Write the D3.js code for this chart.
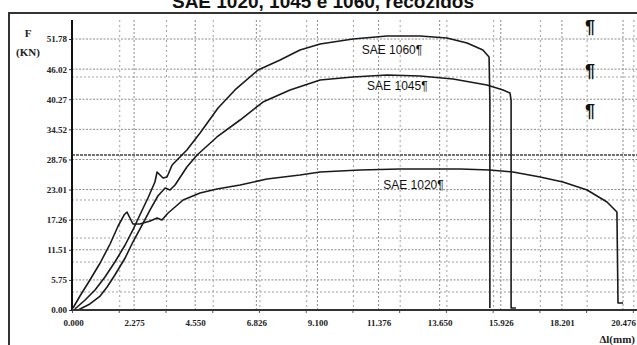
<!DOCTYPE html>
<html>
<head>
<meta charset="utf-8">
<script src="https://cdn.jsdelivr.net/npm/d3@7/dist/d3.min.js"></script>
<style>
  html, body { margin: 0; padding: 0; background: #fff; }
  svg { display: block; }
</style>
</head>
<body>
<script>
// Tensile test curves: force F (kN) against elongation Δl (mm)
const xTicks = [0, 2.275, 4.550, 6.826, 9.100, 11.376, 13.650, 15.926, 18.201, 20.476];
const xTickLabels = ["0.000", "2.275", "4.550", "6.826", "9.100", "11.376", "13.650", "15.926", "18.201", "20.476"];
const yTicks = [0, 5.75, 11.51, 17.26, 23.01, 28.76, 34.52, 40.27, 46.02, 51.78];
const yTickLabels = ["0.00", "5.75", "11.51", "17.26", "23.01", "28.76", "34.52", "40.27", "46.02", "51.78"];

// minor ticks along the bottom axis and the second (overlaid) grid
const xMinor = [0, 1.74, 3.48, 5.22, 6.96, 8.70, 10.44, 12.18, 13.92, 15.66, 17.40, 19.14, 20.88];
const gridY2 = [44.52, 29.62, 21.02, 13.76, 9.17, 3.44];

const sae1020x = [0.00, 0.26, 0.63, 1.01, 1.38, 1.68, 1.90, 2.01, 2.12, 2.23, 2.49, 2.87, 3.13, 3.31, 3.54, 4.10, 4.73, 5.36, 6.22, 7.22, 8.45, 9.20, 10.68, 12.17, 14.41, 15.52, 16.38, 17.39, 18.24, 19.14, 19.88, 20.25, 20.29, 20.48];
const sae1020F = [0.38, 2.67, 5.73, 8.98, 12.61, 16.05, 18.15, 18.72, 17.58, 16.43, 16.43, 17.01, 17.58, 17.20, 18.53, 21.02, 22.36, 23.12, 23.88, 25.03, 25.79, 26.37, 26.75, 26.94, 26.94, 26.75, 26.37, 25.41, 24.46, 22.93, 20.63, 18.72, 1.34, 1.34];

const sae1045x = [0.19, 0.63, 1.01, 1.27, 1.56, 1.94, 2.23, 2.57, 2.87, 3.16, 3.43, 3.61, 3.80, 4.24, 4.62, 5.36, 6.22, 7.07, 8.08, 9.20, 10.42, 11.69, 12.92, 14.15, 15.41, 16.01, 16.27, 16.31, 16.31, 16.49];
const sae1045F = [0.00, 1.15, 2.67, 4.39, 6.69, 9.94, 12.99, 16.24, 19.11, 21.78, 23.31, 22.93, 23.88, 27.32, 29.62, 33.06, 36.30, 39.74, 42.04, 43.95, 44.52, 44.90, 44.71, 44.14, 42.99, 42.04, 41.46, 40.12, 0.38, 0.38];

const sae1060x = [0.07, 0.45, 0.82, 1.19, 1.56, 1.94, 2.23, 2.49, 2.79, 3.05, 3.13, 3.24, 3.35, 3.50, 3.69, 4.24, 4.73, 5.40, 6.03, 6.89, 7.71, 8.45, 9.20, 10.42, 11.69, 12.92, 13.92, 14.67, 15.26, 15.49, 15.52, 15.52];
const sae1060F = [0.19, 1.91, 3.82, 6.31, 9.17, 12.42, 15.29, 18.15, 21.40, 24.46, 26.37, 25.79, 25.22, 25.41, 27.71, 30.57, 33.82, 38.60, 42.04, 45.86, 47.77, 49.68, 50.82, 51.78, 52.35, 52.35, 51.97, 51.02, 49.68, 48.34, 40.12, 0.38];

const seriesNames = ["SAE 1060¶", "SAE 1045¶", "SAE 1020¶"];
const labelAt = [[10.75, 48.9], [10.95, 42.0], [11.55, 23.1]];

const W = 637, H = 345;
const svg = d3.select("body").append("svg").attr("width", W).attr("height", H);
svg.append("rect").attr("width", W).attr("height", H).attr("fill", "#fff");

const x = d3.scaleLinear().domain([0, 20.476]).range([73, 623]);
const y = d3.scaleLinear().domain([0, 51.78]).range([310, 39]);

// page frame
svg.append("line").attr("x1", 8).attr("x2", W).attr("y1", 13).attr("y2", 13)
  .attr("stroke", "#333").attr("stroke-width", 2);
svg.append("line").attr("x1", 9).attr("x2", 9).attr("y1", 13).attr("y2", H)
  .attr("stroke", "#333").attr("stroke-width", 2);

// title (the page above is trimmed, so only its lower part shows)
svg.append("text").attr("x", 323).attr("y", 8).attr("text-anchor", "middle")
  .attr("font-family", "Liberation Sans, Arial, sans-serif").attr("font-weight", "bold")
  .attr("font-size", 19).attr("fill", "#111")
  .text("SAE 1020, 1045 e 1060, recozidos");

const grid = svg.append("g");
const gx0 = 72, gx1 = W, gy0 = 20, gy1 = 310;

// primary grid at tick values
grid.selectAll(".vg").data(xTicks.slice(1)).join("line")
  .attr("x1", d => x(d)).attr("x2", d => x(d)).attr("y1", gy0).attr("y2", gy1)
  .attr("stroke", "#8a8a8a").attr("stroke-width", 1).attr("stroke-dasharray", "2,2");
grid.selectAll(".hg").data(yTicks.slice(1)).join("line")
  .attr("x1", gx0).attr("x2", gx1).attr("y1", d => y(d)).attr("y2", d => y(d))
  .attr("stroke", "#8a8a8a").attr("stroke-width", 1).attr("stroke-dasharray", "2,1.5");

// overlaid grid
grid.selectAll(".vg2").data(xMinor.slice(1)).join("line")
  .attr("x1", d => x(d)).attr("x2", d => x(d)).attr("y1", gy0).attr("y2", gy1)
  .attr("stroke", "#a0a0a0").attr("stroke-width", 1).attr("stroke-dasharray", "2,3");
grid.selectAll(".hg2").data(gridY2).join("line")
  .attr("x1", gx0).attr("x2", gx1).attr("y1", d => y(d)).attr("y2", d => y(d))
  .attr("stroke", (d, i) => i === 1 ? "#444" : "#a0a0a0")
  .attr("stroke-width", (d, i) => i === 1 ? 1.6 : 1)
  .attr("stroke-dasharray", (d, i) => i === 1 ? "3,1" : "2,2");

// curves
const line = d3.line().x(d => x(d[0])).y(d => y(d[1]));
const series = [
  d3.zip(sae1060x, sae1060F),
  d3.zip(sae1045x, sae1045F),
  d3.zip(sae1020x, sae1020F)
];
svg.append("g").selectAll("path").data(series).join("path")
  .attr("d", line).attr("fill", "none").attr("stroke", "#1a1a1a")
  .attr("stroke-width", 1.6).attr("stroke-linejoin", "round");

// curve labels
svg.append("g").selectAll("text").data(seriesNames).join("text")
  .attr("x", (d, i) => x(labelAt[i][0])).attr("y", (d, i) => y(labelAt[i][1]))
  .attr("font-family", "Liberation Sans, Arial, sans-serif").attr("font-size", 12)
  .attr("fill", "#111").text(d => d);

// paragraph marks in the right column
const pilcrowF = [52.9, 44.5, 36.9];
svg.append("g").selectAll("text").data(pilcrowF).join("text")
  .attr("x", 585).attr("y", d => y(d))
  .attr("font-family", "Liberation Sans, Arial, sans-serif").attr("font-size", 18)
  .attr("font-weight", "bold").attr("fill", "#111").text("¶");

// axes
const serif = "Liberation Serif, Times New Roman, serif";
const yAxis = svg.append("g").attr("transform", "translate(72,0)")
  .call(d3.axisLeft(y).tickValues(yTicks).tickFormat((d, i) => yTickLabels[i]).tickSize(3).tickPadding(2));
yAxis.select(".domain").remove();
yAxis.selectAll("text").attr("font-family", serif).attr("font-size", 9).attr("font-weight", "bold").attr("fill", "#222");
yAxis.selectAll("line").attr("stroke", "#333");

const xAxis = svg.append("g").attr("transform", "translate(0,310)")
  .call(d3.axisBottom(x).tickValues(xTicks).tickFormat((d, i) => xTickLabels[i]).tickSize(0).tickPadding(10));
xAxis.select(".domain").remove();
xAxis.selectAll("text").attr("font-family", serif).attr("font-size", 9).attr("font-weight", "bold").attr("fill", "#222");

const xMinorAxis = svg.append("g").attr("transform", "translate(-1,310)")
  .call(d3.axisBottom(x).tickValues(xMinor).tickFormat("").tickSize(3));
xMinorAxis.select(".domain").remove();
xMinorAxis.selectAll("line").attr("stroke", "#555");

svg.append("line").attr("x1", gx0).attr("x2", gx0).attr("y1", gy0).attr("y2", gy1 + 1)
  .attr("stroke", "#111").attr("stroke-width", 2);
svg.append("line").attr("x1", gx0).attr("x2", gx1).attr("y1", gy1).attr("y2", gy1)
  .attr("stroke", "#333").attr("stroke-width", 2);

// axis titles
const at = svg.append("g").attr("font-family", serif).attr("font-weight", "bold").attr("fill", "#222");
at.append("text").attr("x", 28).attr("y", 37).attr("text-anchor", "middle").attr("font-size", 11).text("F");
at.append("text").attr("x", 28).attr("y", 56).attr("text-anchor", "middle").attr("font-size", 11).text("(KN)");
at.append("text").attr("x", 635).attr("y", 343).attr("text-anchor", "end").attr("font-size", 11).text("Δl(mm)");
</script>
</body>
</html>
